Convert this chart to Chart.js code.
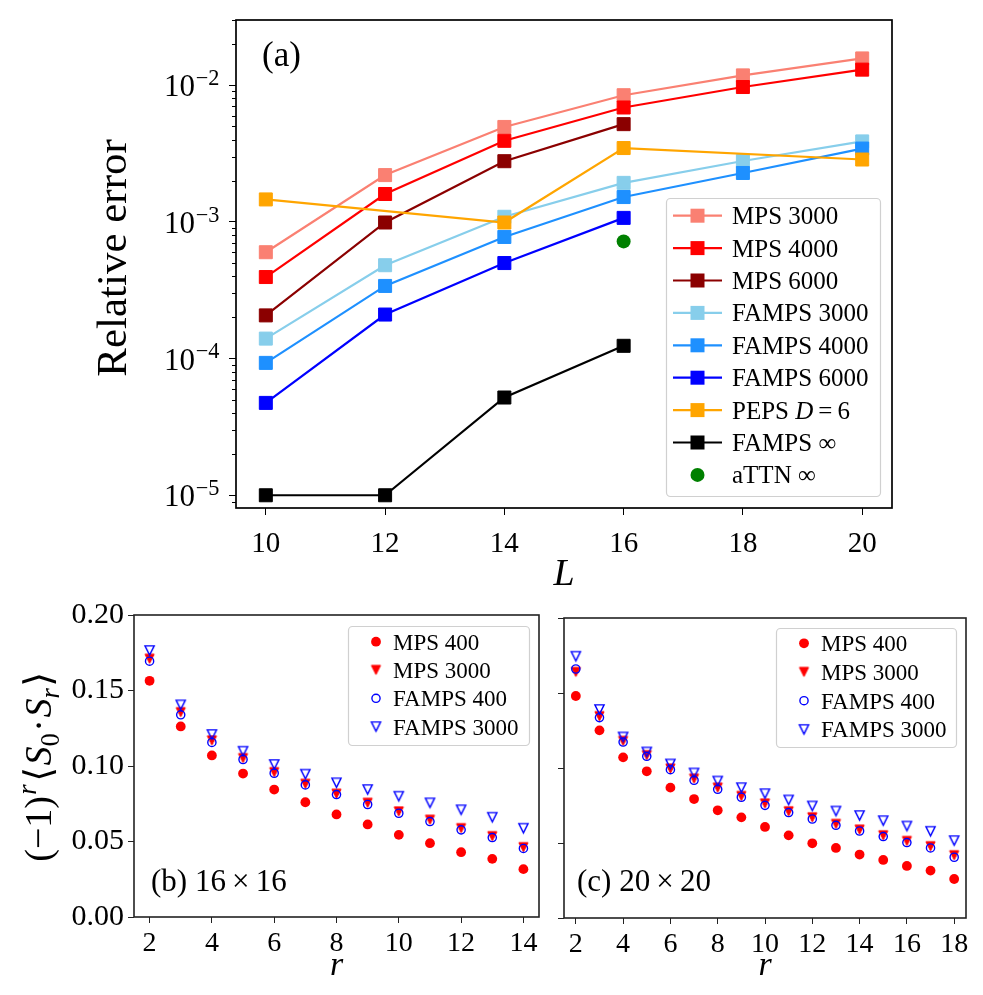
<!DOCTYPE html>
<html><head><meta charset="utf-8">
<script src="https://cdn.jsdelivr.net/npm/chart.js@4.4.0/dist/chart.umd.min.js"></script>
<style>
html,body{margin:0;padding:0;background:#fff;}
#wrap{position:relative;width:983px;height:995px;overflow:hidden;background:#fff;}
canvas{position:absolute;}
</style></head><body>
<div id="wrap">
<canvas id="ca" width="983" height="590" style="left:0;top:0;width:983px;height:590px"></canvas>
<canvas id="cb" width="548" height="405" style="left:0;top:590px;width:548px;height:405px"></canvas>
<canvas id="cc" width="435" height="405" style="left:548px;top:590px;width:435px;height:405px"></canvas>
</div>
<script>
const FONT = "'Liberation Serif','DejaVu Serif',serif";

// ---------- panel (a) data ----------
const L_ALL  = [10, 12, 14, 16, 18, 20];
const L_TO16 = [10, 12, 14, 16];
const L_PEPS = [10, 14, 16, 20];
const L_ATTN = [16];
const errMps3000   = [6.0e-4, 2.2e-3, 4.95e-3, 8.45e-3, 1.18e-2, 1.57e-2];
const errMps4000   = [3.95e-4, 1.6e-3, 3.92e-3, 6.87e-3, 9.7e-3, 1.30e-2];
const errMps6000   = [2.07e-4, 9.9e-4, 2.78e-3, 5.19e-3];
const errFamps3000 = [1.40e-4, 4.82e-4, 1.09e-3, 1.93e-3, 2.79e-3, 3.88e-3];
const errFamps4000 = [9.3e-5, 3.4e-4, 7.76e-4, 1.52e-3, 2.28e-3, 3.44e-3];
const errFamps6000 = [4.74e-5, 2.1e-4, 5.0e-4, 1.07e-3];
const errPeps      = [1.46e-3, 9.9e-4, 3.47e-3, 2.86e-3];
const errFampsInf  = [1.0e-5, 1.0e-5, 5.19e-5, 1.24e-4];
const errAttnInf   = [7.2e-4];
const xTicksA  = [10, 12, 14, 16, 18, 20];
const yMajorA  = [1e-5, 1e-4, 1e-3, 1e-2];
const yMinorA  = [9e-6, 2e-5, 3e-5, 4e-5, 5e-5, 6e-5, 7e-5, 8e-5, 9e-5,
                  2e-4, 3e-4, 4e-4, 5e-4, 6e-4, 7e-4, 8e-4, 9e-4,
                  2e-3, 3e-3, 4e-3, 5e-3, 6e-3, 7e-3, 8e-3, 9e-3, 2e-2, 3e-2];

// ---------- panels (b),(c) data ----------
const r16 = [2, 3, 4, 5, 6, 7, 8, 9, 10, 11, 12, 13, 14];
const b_mps400   = [0.1564, 0.1262, 0.1070, 0.0950, 0.0844, 0.0760, 0.0679, 0.0613, 0.0544, 0.0489, 0.0429, 0.0385, 0.0317];
const b_mps3000  = [0.1710, 0.1356, 0.1169, 0.1052, 0.0959, 0.0882, 0.0816, 0.0756, 0.0699, 0.0644, 0.0588, 0.0535, 0.0462];
const b_famps400 = [0.1694, 0.1339, 0.1156, 0.1043, 0.0952, 0.0875, 0.0811, 0.0745, 0.0687, 0.0632, 0.0577, 0.0526, 0.0454];
const b_famps3000= [0.1765, 0.1405, 0.1209, 0.1098, 0.1010, 0.0946, 0.0889, 0.0844, 0.0800, 0.0756, 0.0710, 0.0661, 0.0588];
const r20 = [2, 3, 4, 5, 6, 7, 8, 9, 10, 11, 12, 13, 14, 15, 16, 17, 18];
const c_mps400   = [0.1480, 0.1251, 0.1071, 0.0978, 0.0869, 0.0793, 0.0718, 0.0671, 0.0607, 0.0551, 0.0498, 0.0467, 0.0423, 0.0387, 0.0347, 0.0316, 0.0260];
const c_mps3000  = [0.1640, 0.1345, 0.1180, 0.1085, 0.0996, 0.0929, 0.0869, 0.0813, 0.0763, 0.0711, 0.0671, 0.0627, 0.0589, 0.0551, 0.0513, 0.0478, 0.0418];
const c_famps400 = [0.1660, 0.1336, 0.1173, 0.1078, 0.0989, 0.0918, 0.0858, 0.0805, 0.0751, 0.0703, 0.0660, 0.0618, 0.0580, 0.0543, 0.0503, 0.0467, 0.0405];
const c_famps3000= [0.1745, 0.1390, 0.1207, 0.1107, 0.1027, 0.0967, 0.0913, 0.0869, 0.0829, 0.0787, 0.0747, 0.0713, 0.0683, 0.0649, 0.0613, 0.0578, 0.0516];
const xTicksB = [2, 4, 6, 8, 10, 12, 14];
const xTicksC = [2, 4, 6, 8, 10, 12, 14, 16, 18];
const yTicksBC = [0, 0.05, 0.10, 0.15, 0.20];
const legendBC = ['MPS 400', 'MPS 3000', 'FAMPS 400', 'FAMPS 3000'];

// ---------- helpers ----------
function roundRect(ctx, x, y, w, h, r) {
  ctx.beginPath();
  ctx.moveTo(x + r, y);
  ctx.arcTo(x + w, y, x + w, y + h, r);
  ctx.arcTo(x + w, y + h, x, y + h, r);
  ctx.arcTo(x, y + h, x, y, r);
  ctx.arcTo(x, y, x + w, y, r);
  ctx.closePath();
}
function drawRich(ctx, segs, x, y, size, align) {
  ctx.textAlign = 'left';
  let w = 0;
  const fonts = segs.map(s => (s.it ? 'italic ' : '') + (size * (s.sc || 1)).toFixed(1) + 'px ' + FONT);
  const ws = segs.map((s, i) => { ctx.font = fonts[i]; const m = ctx.measureText(s.t).width + (s.dx || 0) * size * 2; w += m; return m; });
  let cx = align === 'center' ? x - w / 2 : (align === 'right' ? x - w : x);
  segs.forEach((s, i) => { ctx.font = fonts[i]; ctx.fillText(s.t, cx + (s.dx || 0) * size, y + (s.dy || 0) * size); cx += ws[i]; });
  return w;
}
function triCanvas(fill, stroke, size, lw) {
  const S = 15;
  const c = document.createElement('canvas');
  c.width = S; c.height = S;
  const g = c.getContext('2d');
  const cx = S / 2, cy = S / 2, h = size / 2;
  g.beginPath();
  g.moveTo(cx - h, cy - h); g.lineTo(cx + h, cy - h); g.lineTo(cx, cy + h); g.closePath();
  if (fill) { g.fillStyle = fill; g.fill(); }
  if (stroke) { g.strokeStyle = stroke; g.lineWidth = lw; g.stroke(); }
  return c;
}
const triRed = triCanvas('#ff0000', '#ff0000', 9.2, 1);
const triBlueOpen = triCanvas(null, '#0000ff', 9.2, 1.4);

// ---------- panel (a) ----------
const seriesA = [
  { name: [{t: 'MPS 3000'}],   xs: L_ALL,  ys: errMps3000,   color: '#fa8072', line: true,  marker: 'rect' },
  { name: [{t: 'MPS 4000'}],   xs: L_ALL,  ys: errMps4000,   color: '#ff0000', line: true,  marker: 'rect' },
  { name: [{t: 'MPS 6000'}],   xs: L_TO16, ys: errMps6000,   color: '#8b0000', line: true,  marker: 'rect' },
  { name: [{t: 'FAMPS 3000'}], xs: L_ALL,  ys: errFamps3000, color: '#87ceeb', line: true,  marker: 'rect' },
  { name: [{t: 'FAMPS 4000'}], xs: L_ALL,  ys: errFamps4000, color: '#1e90ff', line: true,  marker: 'rect' },
  { name: [{t: 'FAMPS 6000'}], xs: L_TO16, ys: errFamps6000, color: '#0000ff', line: true,  marker: 'rect' },
  { name: [{t: 'PEPS '}, {t: 'D', it: true}, {t: '\u2009=\u20096'}], xs: L_PEPS, ys: errPeps, color: '#ffa500', line: true, marker: 'rect' },
  { name: [{t: 'FAMPS \u221E'}], xs: L_TO16, ys: errFampsInf, color: '#000000', line: true, marker: 'rect' },
  { name: [{t: 'aTTN \u221E'}],  xs: L_ATTN, ys: errAttnInf,  color: '#008000', line: false, marker: 'circle' }
];
const N_A = seriesA.length;
const datasetsA = seriesA.map((s, i) => ({
  label: s.name.map(p => p.t).join(''),
  data: s.xs.map((x, j) => ({ x: x, y: s.ys[j] })),
  borderColor: s.color,
  backgroundColor: s.color,
  borderWidth: 2.2,
  showLine: s.line,
  pointStyle: s.marker,
  pointRadius: s.marker === 'rect' ? 9.2 : 7,
  pointBorderWidth: s.marker === 'rect' ? 1 : 0,
  pointBorderColor: s.color,
  pointBackgroundColor: s.color,
  tension: 0,
  order: N_A - i
}));

const pluginA = {
  id: 'pluginA',
  afterDraw(chart) {
    const { ctx, chartArea: a, scales } = chart;
    ctx.save();
    ctx.fillStyle = '#000';
    ctx.strokeStyle = '#000';
    // frame
    ctx.lineWidth = 1.7;
    ctx.strokeRect(a.left, a.top, a.right - a.left, a.bottom - a.top);
    // minor ticks
    ctx.lineWidth = 1;
    const ys = scales.y;
    yMinorA.forEach(v => {
      const p = ys.getPixelForValue(v);
      if (p < a.top - 0.5 || p > a.bottom + 0.5) return;
      ctx.beginPath(); ctx.moveTo(a.left, Math.round(p) + 0.5); ctx.lineTo(a.left - 4, Math.round(p) + 0.5); ctx.stroke();
    });
    // y tick labels 10^k
    ctx.textBaseline = 'alphabetic';
    yMajorA.forEach(v => {
      const p = ys.getPixelForValue(v);
      const k = Math.round(Math.log10(v));
      drawRich(ctx, [{t: '10'}, {t: '\u2212' + Math.abs(k), sc: 0.72, dy: -0.36, dx: 0.02}], a.left - 16, p + 11, 31, 'right');
    });
    // axis titles
    ctx.save();
    ctx.translate(115, (a.top + a.bottom) / 2 - 6);
    ctx.rotate(-Math.PI / 2);
    ctx.font = '43px ' + FONT;
    ctx.textAlign = 'center'; ctx.textBaseline = 'middle';
    ctx.fillText('Relative error', 0, 0);
    ctx.restore();
    ctx.font = 'italic 38px ' + FONT;
    ctx.textAlign = 'center'; ctx.textBaseline = 'alphabetic';
    ctx.fillText('L', (a.left + a.right) / 2, 585);
    // panel tag
    ctx.font = '35px ' + FONT;
    ctx.textAlign = 'left';
    ctx.fillText('(a)', 262, 66);
    // legend
    const L = { x0: 666, y0: 198, x1: 880, y1: 496, row0: 215.7, dy: 32.4, lx0: 673, lx1: 722, mx: 697.5, tx: 732 };
    roundRect(ctx, L.x0 + 0.5, L.y0 + 0.5, L.x1 - L.x0, L.y1 - L.y0, 4);
    ctx.fillStyle = 'rgba(255,255,255,0.85)'; ctx.fill();
    ctx.strokeStyle = '#d0d0d0'; ctx.lineWidth = 1.2; ctx.stroke();
    seriesA.forEach((s, i) => {
      const y = L.row0 + i * L.dy;
      if (s.line) {
        ctx.strokeStyle = s.color; ctx.lineWidth = 2.2;
        ctx.beginPath(); ctx.moveTo(L.lx0, y); ctx.lineTo(L.lx1, y); ctx.stroke();
      }
      ctx.fillStyle = s.color;
      if (s.marker === 'rect') {
        ctx.fillRect(L.mx - 7, y - 7, 14, 14);
      } else {
        ctx.beginPath(); ctx.arc(L.mx, y, 7, 0, Math.PI * 2); ctx.fill();
      }
      ctx.fillStyle = '#000';
      drawRich(ctx, s.name, L.tx, y + 8.5, 25, 'left');
    });
    ctx.restore();
  }
};

new Chart(document.getElementById('ca'), {
  type: 'line',
  data: { datasets: datasetsA },
  options: {
    responsive: false, animation: false, events: [],
    layout: { padding: { top: 20, right: 91, left: 0, bottom: 0 } },
    plugins: { legend: { display: false }, tooltip: { enabled: false } },
    scales: {
      x: {
        type: 'linear', min: 9.5, max: 20.5,
        afterBuildTicks: s => { s.ticks = xTicksA.map(v => ({ value: v })); },
        afterFit: s => { s.height = 82; },
        grid: { drawOnChartArea: false, drawTicks: true, tickLength: 7, tickColor: '#000', tickWidth: 1 },
        border: { display: false },
        ticks: { color: '#000', font: { family: FONT, size: 29 }, padding: 12, maxRotation: 0, autoSkip: false }
      },
      y: {
        type: 'logarithmic', min: 8.07e-6, max: 3.0e-2,
        afterBuildTicks: s => { s.ticks = yMajorA.map(v => ({ value: v })); },
        afterFit: s => { s.width = 236; },
        grid: { drawOnChartArea: false, drawTicks: true, tickLength: 7, tickColor: '#000', tickWidth: 1 },
        border: { display: false },
        ticks: { callback: () => '', autoSkip: false }
      }
    }
  },
  plugins: [pluginA]
});

// ---------- panels (b),(c) ----------
function makeBC(canvasId, rs, mps400, mps3000, famps400, famps3000, xTicks, xmin, xmax, geo, tag, showYLabels) {
  const datasets = [
    { label: legendBC[0], data: rs.map((r, j) => ({ x: r, y: mps400[j] })),
      pointStyle: 'circle', pointRadius: 4.9, pointBorderWidth: 0, pointBackgroundColor: '#ff0000', backgroundColor: '#ff0000', borderColor: '#ff0000', order: 4 },
    { label: legendBC[1], data: rs.map((r, j) => ({ x: r, y: mps3000[j] })),
      pointStyle: triRed, pointRadius: 5, order: 3, borderColor: '#ff0000', backgroundColor: '#ff0000' },
    { label: legendBC[2], data: rs.map((r, j) => ({ x: r, y: famps400[j] })),
      pointStyle: 'circle', pointRadius: 4.1, pointBorderWidth: 1.4, pointBorderColor: '#0000ff', pointBackgroundColor: 'rgba(0,0,0,0)', borderColor: '#0000ff', backgroundColor: 'rgba(0,0,0,0)', order: 2 },
    { label: legendBC[3], data: rs.map((r, j) => ({ x: r, y: famps3000[j] })),
      pointStyle: triBlueOpen, pointRadius: 5, order: 1, borderColor: '#0000ff', backgroundColor: 'rgba(0,0,0,0)' }
  ];
  const plugin = {
    id: 'plug_' + canvasId,
    afterDraw(chart) {
      const { ctx, chartArea: a } = chart;
      ctx.save();
      ctx.strokeStyle = '#222'; ctx.lineWidth = 1.6;
      ctx.strokeRect(a.left, a.top, a.right - a.left, a.bottom - a.top);
      ctx.fillStyle = '#000';
      ctx.textBaseline = 'alphabetic';
      // x title
      ctx.font = 'italic 34px ' + FONT; ctx.textAlign = 'center';
      ctx.fillText('r', (a.left + a.right) / 2, 385);
      // panel tag
      drawRich(ctx, tag, geo.tagX, geo.tagY, 31, 'left');
      // y title
      if (showYLabels) {
        ctx.save();
        ctx.translate(38, (a.top + a.bottom) / 2);
        ctx.rotate(-Math.PI / 2);
        drawRich(ctx, [
          {t: '(\u22121)'}, {t: 'r', it: true, sc: 0.7, dy: -0.4, dx: 0.03},
          {t: '\u27E8', dx: 0.04}, {t: 'S', it: true}, {t: '0', sc: 0.7, dy: 0.2}, {t: '\u00B7', dx: 0.04}, {t: 'S', it: true},
          {t: 'r', it: true, sc: 0.7, dy: 0.2}, {t: '\u27E9', dx: 0.04}
        ], 0, 13, 38, 'center');
        ctx.restore();
      }
      // legend
      const L = geo.leg;
      roundRect(ctx, L.x0 + 0.5, L.y0 + 0.5, L.x1 - L.x0, L.y1 - L.y0, 4);
      ctx.fillStyle = 'rgba(255,255,255,0.85)'; ctx.fill();
      ctx.strokeStyle = '#d0d0d0'; ctx.lineWidth = 1.2; ctx.stroke();
      legendBC.forEach((name, i) => {
        const y = L.row0 + i * L.dy;
        if (i === 0) {
          ctx.fillStyle = '#ff0000'; ctx.beginPath(); ctx.arc(L.mx, y, 4.9, 0, Math.PI * 2); ctx.fill();
        } else if (i === 1) {
          ctx.drawImage(triRed, L.mx - triRed.width / 2, y - triRed.height / 2);
        } else if (i === 2) {
          ctx.strokeStyle = '#0000ff'; ctx.lineWidth = 1.4; ctx.beginPath(); ctx.arc(L.mx, y, 4.1, 0, Math.PI * 2); ctx.stroke();
        } else {
          ctx.drawImage(triBlueOpen, L.mx - triBlueOpen.width / 2, y - triBlueOpen.height / 2);
        }
        ctx.fillStyle = '#000';
        drawRich(ctx, [{t: name}], L.tx, y + 8, 23, 'left');
      });
      ctx.restore();
    }
  };
  new Chart(document.getElementById(canvasId), {
    type: 'scatter',
    data: { datasets },
    options: {
      responsive: false, animation: false, events: [],
      layout: { padding: { top: geo.top, right: geo.right, left: 0, bottom: 0 } },
      plugins: { legend: { display: false }, tooltip: { enabled: false } },
      scales: {
        x: {
          type: 'linear', min: xmin, max: xmax,
          afterBuildTicks: s => { s.ticks = xTicks.map(v => ({ value: v })); },
          afterFit: s => { s.height = geo.xh; },
          grid: { drawOnChartArea: false, drawTicks: true, tickLength: 6, tickColor: '#222', tickWidth: 1 },
          border: { display: false },
          ticks: { color: '#000', font: { family: FONT, size: 28 }, padding: 4, maxRotation: 0, autoSkip: false }
        },
        y: {
          type: 'linear', min: 0, max: 0.2,
          afterBuildTicks: s => { s.ticks = yTicksBC.map(v => ({ value: v })); },
          afterFit: s => { s.width = geo.yw; },
          grid: { drawOnChartArea: false, drawTicks: true, tickLength: 6, tickColor: '#222', tickWidth: 1 },
          border: { display: false },
          ticks: { color: '#000', font: { family: FONT, size: 30 }, padding: 4, autoSkip: false,
                   callback: v => showYLabels ? Number(v).toFixed(2) : '' }
        }
      }
    },
    plugins: [plugin]
  });
}

makeBC('cb', r16, b_mps400, b_mps3000, b_famps400, b_famps3000, xTicksB, 1.5, 14.5,
  { top: 25, right: 9, xh: 78, yw: 134, tagX: 151, tagY: 301,
    leg: { x0: 348, y0: 36, x1: 529, y1: 155, row0: 51.7, dy: 28.3, mx: 376, tx: 393 } },
  [{t: '(b) 16'}, {t: '\u00D7', dx: 0.2}, {t: '16'}], true);

makeBC('cc', r20, c_mps400, c_mps3000, c_famps400, c_famps3000, xTicksC, 1.5, 18.5,
  { top: 28, right: 17, xh: 77, yw: 16, tagX: 29, tagY: 301,
    leg: { x0: 228, y0: 38, x1: 408, y1: 157, row0: 53.3, dy: 28.7, mx: 256, tx: 273 } },
  [{t: '(c) 20'}, {t: '\u00D7', dx: 0.2}, {t: '20'}], false);
</script>
</body></html>
